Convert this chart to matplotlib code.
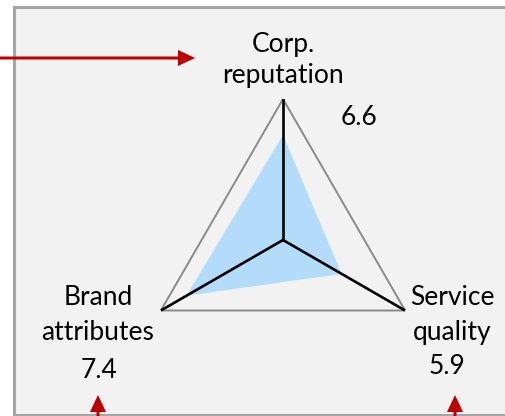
import numpy as np
import matplotlib
matplotlib.use("Agg")
import matplotlib.pyplot as plt
from matplotlib.patches import Rectangle

plt.rcParams["font.family"] = ["Lato", "DejaVu Sans"]

# radar data (top, lower right, lower left; clockwise)
categories = ["Corp.\nreputation", "Service\nquality", "Brand\nattributes"]
scores = [6.6, 5.9, 7.4]
# size of the shaded shape on each spoke (0-10)
shape_levels = [7.45, 4.8, 7.9]
r_max = 10

W, H = 506, 416
fig = plt.figure(figsize=(W / 100, H / 100), dpi=100)

# background layer in pixel units
bg = fig.add_axes([0, 0, 1, 1])
bg.set_xlim(0, W)
bg.set_ylim(H, 0)
bg.axis("off")
# panel runs off the right edge: fill plus an open border (top, left, bottom)
bg.add_patch(Rectangle((14, 7), W - 14, 408, facecolor="#f2f2f2", lw=0, zorder=0))
bg.plot([W, 14, 14, W], [7, 7, 415, 415], color="#a6a6a6", lw=2.2,
        solid_joinstyle="miter", zorder=0.5)

# radar in a polar axes: centre (283, 240) px, radius 141 px
cx, cy, rad = 283, 240, 141
ax = fig.add_axes([(cx - rad) / W, (H - cy - rad) / H, 2 * rad / W, 2 * rad / H],
                  projection="polar")
ax.set_theta_offset(np.pi / 2)
ax.set_theta_direction(-1)
ax.set_ylim(0, r_max)
ax.axis("off")
ax.patch.set_alpha(0)

theta = np.linspace(0, 2 * np.pi, len(categories), endpoint=False)
tc = np.append(theta, theta[0])

ax.fill(tc, np.append(shape_levels, shape_levels[0]), color="#b3dbfa", lw=0, zorder=1)
ax.plot(tc, [r_max] * len(tc), color="#8a8a8a", lw=1.4, zorder=2)
for t in theta:
    ax.plot([t, t], [0, r_max], color="black", lw=1.9, zorder=3)

# labels
fs = 19
lab = dict(ha="center", va="baseline", fontsize=fs, color="black")
bg.text(283, 52, "Corp.", **lab)
bg.text(283, 83, "reputation", **lab)
bg.text(359, 125, f"{scores[0]}", **lab)
bg.text(452, 305, "Service", **lab)
bg.text(452, 340, "quality", **lab)
bg.text(447, 374, f"{scores[1]}", **lab)
bg.text(98, 305, "Brand", **lab)
bg.text(98, 340, "attributes", **lab)
bg.text(99, 378, f"{scores[2]}", **lab)

# red arrows
red = "#c00000"
arr = dict(width=3, head_width=16, head_length=17, length_includes_head=True,
           color=red, lw=0, zorder=4)
bg.arrow(-2, 58, 197, 0, **arr)
bg.arrow(98, 420, 0, -25, **arr)
bg.arrow(455, 420, 0, -25, **arr)

fig.savefig("out.png", dpi=100)
